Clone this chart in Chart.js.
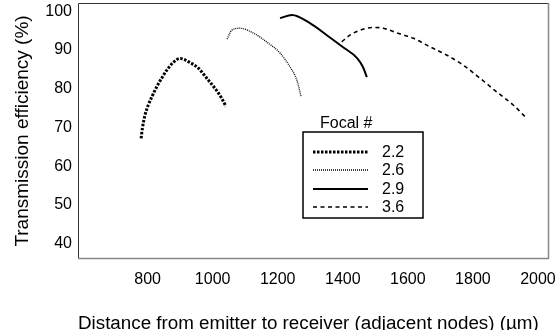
<!DOCTYPE html>
<html>
<head>
<meta charset="utf-8">
<script src="https://cdn.jsdelivr.net/npm/chart.js@4/dist/chart.umd.min.js"></script>
<style>
  html, body { margin: 0; padding: 0; background: #fff; }
  #wrap { width: 555px; height: 330px; }
</style>
</head>
<body>
<div id="wrap"><canvas id="c" width="555" height="330"></canvas></div>
<script>
// Focal numbers shown in the legend
const focalLabels = ['2.2', '2.6', '2.9', '3.6'];

// Distance (µm) and transmission efficiency (%) for each focal number
const dist22 = [780, 784, 792, 802, 813, 828, 843, 859, 879, 900, 925, 956, 982, 1007, 1028, 1041];
const eff22  = [67.2, 69.8, 73.2, 75.8, 77.9, 80.5, 82.7, 84.8, 86.8, 87.8, 87.0, 85.3, 82.7, 80.1, 77.5, 75.4];

const dist26 = [1044, 1059, 1084, 1124, 1167, 1207, 1238, 1259, 1272];
const eff26  = [92.8, 95.1, 95.6, 94.4, 92.0, 89.2, 85.6, 82.2, 77.9];

const dist29 = [1207, 1244, 1299, 1351, 1401, 1444, 1462, 1474];
const eff29  = [98.2, 99.0, 96.9, 93.8, 90.7, 87.9, 85.6, 83.0];

const dist36 = [1397, 1422, 1453, 1494, 1525, 1566, 1617, 1668, 1719, 1770, 1822, 1873, 1924, 1965];
const eff36  = [92.1, 93.8, 95.1, 95.8, 95.6, 94.4, 93.0, 90.8, 88.7, 86.1, 82.7, 79.2, 75.8, 72.4];

// Axis tick values
const xTicks = [800, 1000, 1200, 1400, 1600, 1800, 2000];
const yTicks = [40, 50, 60, 70, 80, 90, 100];

const FONT = '"Liberation Sans", Arial, sans-serif';

function pts(xs, ys) { return xs.map((x, i) => ({ x: x, y: ys[i] })); }

const styles = [
  { borderWidth: 3,   borderDash: [2.5, 1.5] },
  { borderWidth: 1.3, borderDash: [1, 1] },
  { borderWidth: 2,   borderDash: [] },
  { borderWidth: 1.6, borderDash: [4, 3.5] }
];
const series = [[dist22, eff22], [dist26, eff26], [dist29, eff29], [dist36, eff36]];

const datasets = series.map((s, i) => ({
  label: focalLabels[i],
  data: pts(s[0], s[1]),
  showLine: true,
  borderColor: '#000',
  backgroundColor: '#000',
  borderWidth: styles[i].borderWidth,
  borderDash: styles[i].borderDash,
  borderCapStyle: 'butt',
  pointRadius: 0,
  cubicInterpolationMode: 'monotone',
  fill: false
}));

// Frame around the plot area plus the boxed "Focal #" legend
const framePlugin = {
  id: 'frameAndLegend',
  afterDraw(chart) {
    const { ctx, chartArea: a } = chart;
    ctx.save();
    ctx.lineWidth = 1;
    ctx.strokeStyle = '#333';
    ctx.beginPath();
    ctx.moveTo(a.left + 0.5, a.bottom);
    ctx.lineTo(a.left + 0.5, a.top + 0.5);
    ctx.lineTo(a.right, a.top + 0.5);
    ctx.stroke();
    ctx.strokeStyle = '#888';
    ctx.lineWidth = 1.5;
    ctx.beginPath();
    ctx.moveTo(a.right - 0.5, a.top);
    ctx.lineTo(a.right - 0.5, a.bottom - 0.5);
    ctx.lineTo(a.left, a.bottom - 0.5);
    ctx.stroke();

    // legend
    const bx = 303, by = 132, bw = 120, bh = 86;
    ctx.fillStyle = '#000';
    ctx.font = '16px ' + FONT;
    ctx.textBaseline = 'middle';
    ctx.textAlign = 'left';
    ctx.fillText('Focal #', 320, 124);
    ctx.fillStyle = '#fff';
    ctx.fillRect(bx, by, bw, bh);
    ctx.strokeStyle = '#000';
    ctx.lineWidth = 1.5;
    ctx.strokeRect(bx, by, bw, bh);
    const rowY = [152, 170, 189, 207];
    chart.data.datasets.forEach((ds, i) => {
      ctx.beginPath();
      ctx.lineWidth = ds.borderWidth;
      ctx.setLineDash(ds.borderDash);
      ctx.lineCap = 'butt';
      ctx.strokeStyle = '#000';
      ctx.moveTo(313, rowY[i]);
      ctx.lineTo(368, rowY[i]);
      ctx.stroke();
      ctx.setLineDash([]);
      ctx.fillStyle = '#000';
      ctx.font = '16px ' + FONT;
      ctx.fillText(ds.label, 382, rowY[i] + 1);
    });
    ctx.restore();
  }
};

new Chart(document.getElementById('c'), {
  type: 'scatter',
  data: { datasets: datasets },
  plugins: [framePlugin],
  options: {
    responsive: false,
    animation: false,
    devicePixelRatio: 1,
    layout: { padding: { top: 3, right: 6, left: 0, bottom: 0 } },
    plugins: { legend: { display: false }, tooltip: { enabled: false } },
    scales: {
      x: {
        type: 'linear',
        min: 586,
        max: 2034,
        afterBuildTicks(scale) { scale.ticks = xTicks.map(v => ({ value: v })); },
        afterFit(scale) {
          scale.height = 71;
          scale.paddingLeft = 0;
          scale.paddingRight = 0;
        },
        grid: { display: false, drawTicks: false },
        border: { display: false },
        ticks: {
          color: '#000', padding: 11, maxRotation: 0,
          font: { family: FONT, size: 16 },
          callback: v => String(v)
        },
        title: {
          display: true,
          align: 'start',
          text: 'Distance from emitter to receiver (adjacent nodes) (µm)',
          color: '#000',
          font: { family: FONT, size: 18.8, lineHeight: 0.65 },
          padding: { top: 0, bottom: 0 }
        }
      },
      y: {
        type: 'linear',
        min: 36.1,
        max: 102.1,
        afterBuildTicks(scale) { scale.ticks = yTicks.map(v => ({ value: v })); },
        afterFit(scale) {
          scale.width = 78;
          scale.paddingTop = 0;
          scale.paddingBottom = 0;
        },
        grid: { display: false, drawTicks: false },
        border: { display: false },
        ticks: {
          color: '#000', padding: 6,
          font: { family: FONT, size: 16 },
          callback: v => String(v)
        },
        title: {
          display: true,
          text: 'Transmission efficiency (%)',
          color: '#000',
          font: { family: FONT, size: 19, lineHeight: 1 },
          padding: { top: 13, bottom: 0 }
        }
      }
    }
  }
});
</script>
</body>
</html>
